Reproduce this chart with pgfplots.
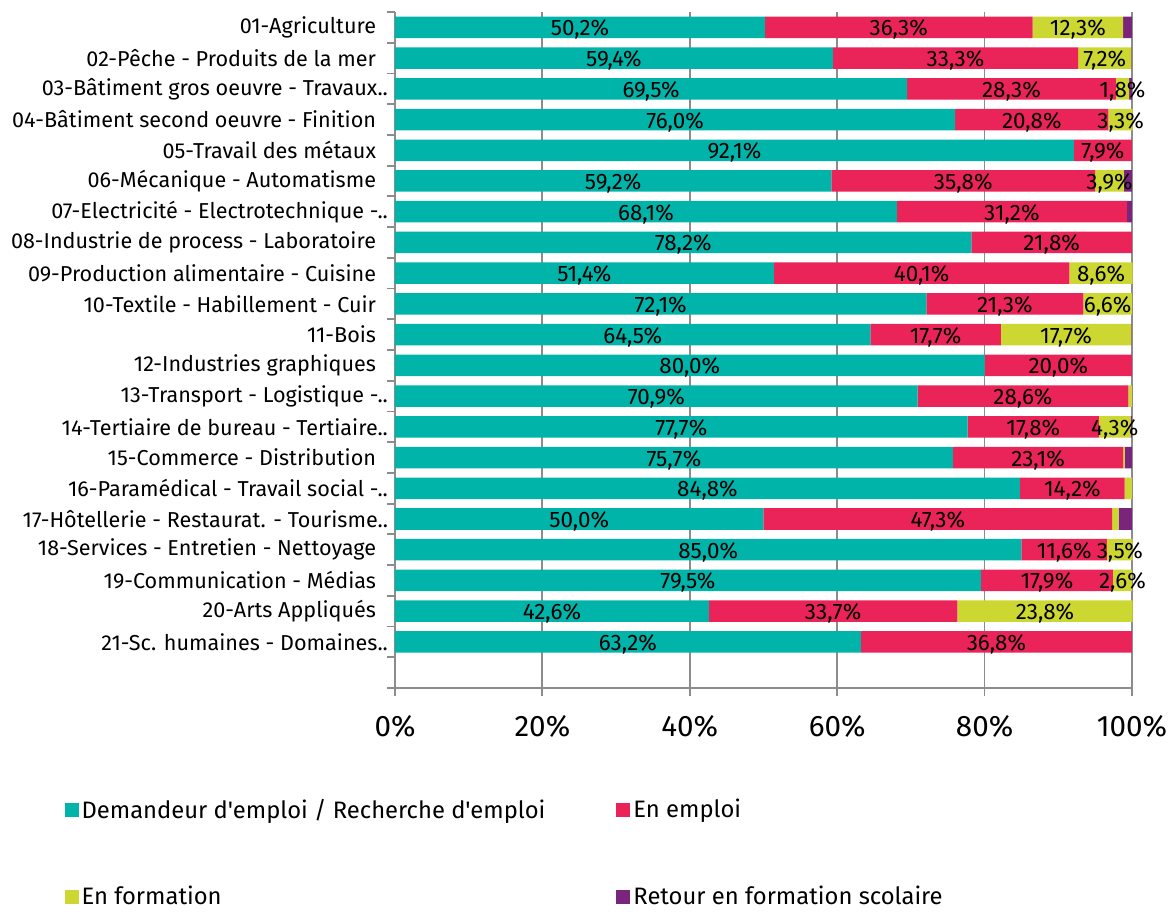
\documentclass[border=0pt]{standalone}
\usepackage{fontspec}
\setmainfont{Fira Sans}[Ligatures=TeXOff]
\usepackage{pgfplots}
\usepackage{pgfplotstable}
\pgfplotsset{compat=1.18}
\definecolor{cteal}{RGB}{0,180,170}
\definecolor{cred}{RGB}{234,36,88}
\definecolor{cyel}{RGB}{205,215,50}
\definecolor{cpur}{RGB}{122,36,124}
\definecolor{cgrid}{RGB}{140,140,140}
\newcommand\tsp{\hspace*{0.55em}}
\pgfplotstableread{
y a b c d la lb lc
21 50.2 36.3 12.3 1.2 {50,2\%} {36,3\%} {12,3\%}
20 59.4 33.3 7.2 0.1 {59,4\%} {33,3\%} {7,2\%}
19 69.5 28.3 1.8 0.4 {69,5\%} {28,3\%} {1,8\%}
18 76.0 20.8 3.3 0.0 {76,0\%} {20,8\%} {3,3\%}
17 92.1 7.9 0.0 0.0 {92,1\%} {7,9\%} {}
16 59.2 35.8 3.9 1.1 {59,2\%} {35,8\%} {3,9\%}
15 68.1 31.2 0.0 0.7 {68,1\%} {31,2\%} {}
14 78.2 21.8 0.0 0.0 {78,2\%} {21,8\%} {}
13 51.4 40.1 8.6 0.0 {51,4\%} {40,1\%} {8,6\%}
12 72.1 21.3 6.6 0.0 {72,1\%} {21,3\%} {6,6\%}
11 64.5 17.7 17.7 0.1 {64,5\%} {17,7\%} {17,7\%}
10 80.0 20.0 0.0 0.0 {80,0\%} {20,0\%} {}
9 70.9 28.6 0.5 0.0 {70,9\%} {28,6\%} {}
8 77.7 17.8 4.3 0.2 {77,7\%} {17,8\%} {4,3\%}
7 75.7 23.1 0.2 1.0 {75,7\%} {23,1\%} {}
6 84.8 14.2 1.0 0.0 {84,8\%} {14,2\%} {}
5 50.0 47.3 0.9 1.8 {50,0\%} {47,3\%} {}
4 85.0 11.6 3.5 0.0 {85,0\%} {11,6\%} {3,5\%}
3 79.5 17.9 2.6 0.0 {79,5\%} {17,9\%} {2,6\%}
2 42.6 33.7 23.8 0.0 {42,6\%} {33,7\%} {23,8\%}
1 63.2 36.8 0.0 0.0 {63,2\%} {36,8\%} {}
}\data
\pgfplotsset{
  common/.style={
    scale only axis, width=368.5pt, height=338pt,
    xmin=0, xmax=100, ymin=-0.5, ymax=21.5,
  },
  lab/.style={
    forget plot, only marks, mark=none,
    point meta=explicit symbolic,
    nodes near coords={\pgfplotspointmeta},
    every node near coord/.append style={anchor=center,
      font=\fontsize{11.2pt}{13pt}\selectfont, text=black, yshift=-1.2pt},
  },
}
\begin{document}
\begin{tikzpicture}
\begin{axis}[common, name=ax,
  xbar stacked, bar width=0.7,
  axis x line*=bottom, axis y line*=left,
  axis line style={cgrid, line width=0.9pt},
  tick align=outside, major tick length=4pt,
  tick style={cgrid, line width=0.9pt},
  xtick={0,20,40,60,80,100},
  xticklabels={0\%,20\%,40\%,60\%,80\%,100\%},
  xticklabel style={font=\fontsize{14.8pt}{17pt}\selectfont, inner sep=0pt, yshift=-9.3pt},
  xmajorgrids, grid style={cgrid, line width=0.9pt},
  ytick={-0.5,0.5,...,21.5}, yticklabel=\empty,
  extra y ticks={1,...,21},
  extra y tick style={grid=none, major tick length=0pt},
  extra y tick labels={
    {21-Sc. humaines - Domaines..},
    {20-Arts Appliqués\tsp},
    {19-Communication - Médias\tsp},
    {18-Services - Entretien - Nettoyage\tsp},
    {17-Hôtellerie - Restaurat. - Tourisme..},
    {16-Paramédical - Travail social -..},
    {15-Commerce - Distribution\tsp},
    {14-Tertiaire de bureau - Tertiaire..},
    {13-Transport - Logistique -..},
    {12-Industries graphiques\tsp},
    {11-Bois\tsp},
    {10-Textile - Habillement - Cuir\tsp},
    {09-Production alimentaire - Cuisine\tsp},
    {08-Industrie de process - Laboratoire\tsp},
    {07-Electricité - Electrotechnique -..},
    {06-Mécanique - Automatisme\tsp},
    {05-Travail des métaux\tsp},
    {04-Bâtiment second oeuvre - Finition\tsp},
    {03-Bâtiment gros oeuvre - Travaux..},
    {02-Pêche - Produits de la mer\tsp},
    {01-Agriculture\tsp}},
  yticklabel style={font=\fontsize{10.8pt}{12pt}\selectfont},
  legend columns=2,
  legend cell align=left,
  legend style={at={(-0.457,-0.153)}, anchor=north west, draw=none, fill=none,
    font=\fontsize{11.9pt}{13.5pt}\selectfont,
    row sep=29.5pt,
    /tikz/every even column/.append style={column sep=34pt},
    nodes={inner sep=1.5pt}},
  legend image code/.code={\fill[#1] (0pt,-3.5pt) rectangle (7pt,3.5pt);},
  clip=false,
]
\addplot[fill=cteal, draw=none] table[x=a, y=y] {\data};
\addlegendentry{Demandeur d'emploi / Recherche d'emploi}
\addplot[fill=cred, draw=none] table[x=b, y=y] {\data};
\addlegendentry{En emploi}
\addplot[fill=cyel, draw=none] table[x=c, y=y] {\data};
\addlegendentry{En formation}
\addplot[fill=cpur, draw=none] table[x=d, y=y] {\data};
\addlegendentry{Retour en formation scolaire}
\end{axis}
\begin{axis}[common, hide axis, clip=false]
\addplot[lab] table[x expr=\thisrow{a}/2, y=y, meta=la] {\data};
\addplot[lab] table[x expr=\thisrow{a}+\thisrow{b}/2, y=y, meta=lb] {\data};
\addplot[lab] table[x expr=\thisrow{a}+\thisrow{b}+\thisrow{c}/2, y=y, meta=lc] {\data};
\end{axis}
\path ([shift={(-197.5pt,-109.5pt)}]ax.south west) rectangle ([shift={(18.5pt,6pt)}]ax.north east);
\end{tikzpicture}
\end{document}
